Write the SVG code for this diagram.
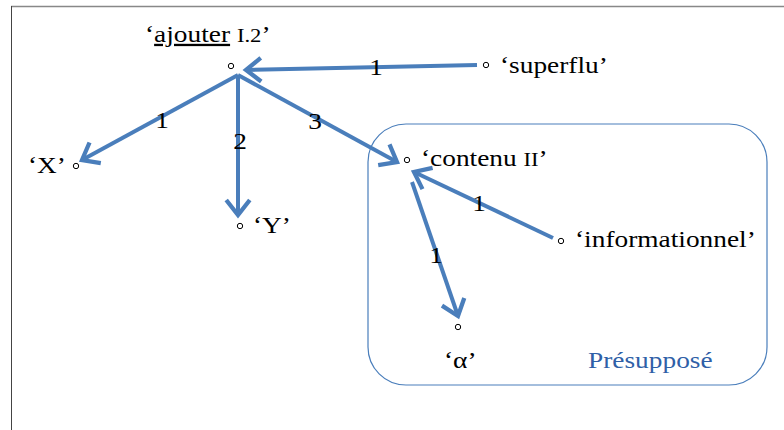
<svg xmlns="http://www.w3.org/2000/svg" width="784" height="430" viewBox="0 0 784 430">
<style>
.t{font-family:Liberation Serif,Times New Roman,Tinos,DejaVu Serif,serif;font-size:23px;fill:#000}
.n{font-family:Liberation Serif,Times New Roman,Tinos,DejaVu Serif,serif;font-size:23px;fill:#000;text-anchor:middle}
.c{fill:#fff;stroke:#000;stroke-width:1}
.e{fill:none;stroke:#4A7EBB;stroke-width:4}
</style>
<defs>
<marker id="ah" markerUnits="userSpaceOnUse" orient="auto" refX="0" refY="0" markerWidth="30" markerHeight="30" viewBox="-16 -14 20 28" overflow="visible">
<path d="M-14,-11 L0,0 L-14,11" fill="none" stroke="#4A7EBB" stroke-width="4"/>
</marker>
</defs>
<rect width="784" height="430" fill="#fff"/>
<g id="frame">
<line x1="11" y1="6.5" x2="784" y2="6.5" stroke="#888" stroke-width="1.5"/>
<line x1="11.5" y1="6" x2="11.5" y2="430" stroke="#444" stroke-width="1"/>
</g>
<g id="presuppose">
<rect x="368" y="124" width="399" height="261" rx="38" ry="38" fill="none" stroke="#4A7EBB" stroke-width="1.2"/>
<text class="t" transform="translate(588,368) scale(1.19,1)" style="fill:#2F5FA7">Présupposé</text>
</g>
<g id="connectors">
<path class="e" d="M477,65 L246,70" marker-end="url(#ah)"/>
<path class="e" d="M238,75 L82,160" marker-end="url(#ah)"/>
<path class="e" d="M238,75 L238,215" marker-end="url(#ah)"/>
<path class="e" d="M238,75 L397,162" marker-end="url(#ah)"/>
<path class="e" d="M553,238 L414,172" marker-end="url(#ah)"/>
<path class="e" d="M412,182 L458,316" marker-end="url(#ah)"/>
<text class="n" transform="translate(376,75) scale(1.19,1)">1</text>
<text class="n" transform="translate(162,128) scale(1.19,1)">1</text>
<text class="n" transform="translate(240,149) scale(1.19,1)">2</text>
<text class="n" transform="translate(315,129) scale(1.19,1)">3</text>
<text class="n" transform="translate(479,211) scale(1.19,1)">1</text>
<text class="n" transform="translate(436,263) scale(1.19,1)">1</text>
</g>
<g id="ajouter">
<circle class="c" cx="231" cy="66" r="2.7"/>
<text class="t" transform="translate(145,42) scale(1.19,1)">‘<tspan text-decoration="underline">ajouter</tspan> <tspan font-size="19">I.2</tspan>’</text>
</g>
<g id="superflu">
<circle class="c" cx="486" cy="65" r="2.7"/>
<text class="t" transform="translate(500,73) scale(1.19,1)">‘superflu’</text>
</g>
<g id="X">
<circle class="c" cx="76" cy="166" r="2.7"/>
<text class="t" transform="translate(28,173) scale(1.19,1)">‘X’</text>
</g>
<g id="Y">
<circle class="c" cx="240" cy="226" r="2.7"/>
<text class="t" transform="translate(253,233) scale(1.19,1)">‘Y’</text>
</g>
<g id="contenu">
<circle class="c" cx="407" cy="160" r="2.7"/>
<text class="t" transform="translate(421,166) scale(1.19,1)">‘contenu <tspan font-size="19">II</tspan>’</text>
</g>
<g id="informationnel">
<circle class="c" cx="561" cy="241" r="2.7"/>
<text class="t" transform="translate(575,247) scale(1.19,1)">‘informationnel’</text>
</g>
<g id="alpha">
<circle class="c" cx="458" cy="327" r="2.7"/>
<text class="t" transform="translate(444,368) scale(1.19,1)">‘α’</text>
</g>
</svg>
